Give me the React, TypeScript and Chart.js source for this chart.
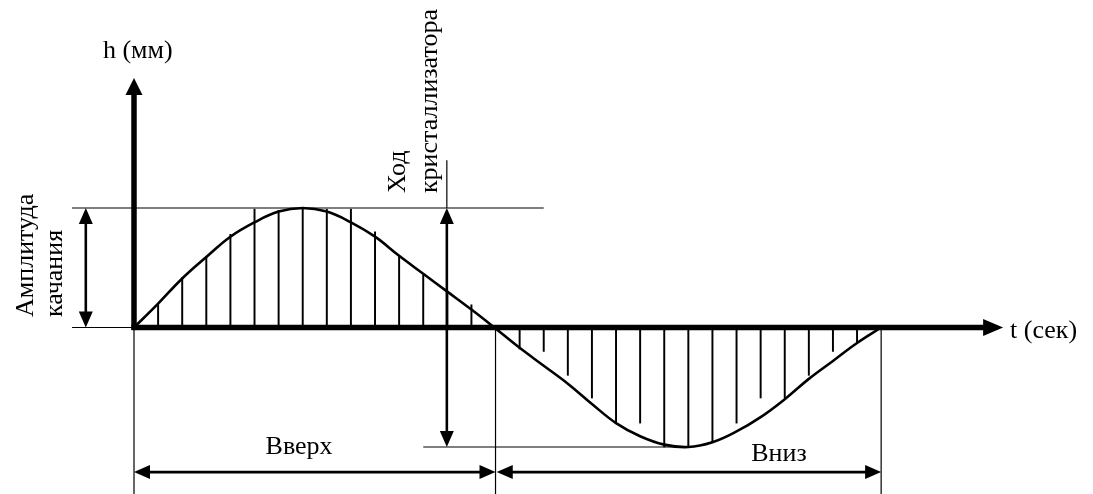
import React, { useEffect, useRef } from "react";
import { Chart, registerables } from "chart.js";

Chart.register(...registerables);

// time steps (one step = one hatch spacing) and normalised height h / amplitude
const curveT = [0, 1, 2, 3, 4, 5, 6, 7, 8, 9, 10, 11, 12, 13, 14, 14.95, 16, 17, 18, 19, 20, 21, 22, 23, 24, 25, 26, 27, 28, 29, 30, 31];
const curveH = [0, 0.2, 0.41, 0.59, 0.76, 0.88, 0.97, 1.0, 0.97, 0.88, 0.76, 0.6, 0.45, 0.3, 0.15, 0, -0.17, -0.32, -0.47, -0.64, -0.8, -0.91, -0.98, -1.0, -0.96, -0.87, -0.75, -0.6, -0.43, -0.28, -0.13, 0];

const hatchT = [1, 2, 3, 4, 5, 6, 7, 8, 9, 10, 11, 12, 13, 14, 16, 17, 18, 19, 20, 21, 22, 23, 24, 25, 26, 27, 28, 29, 30];
const hatchH = [0.2, 0.42, 0.59, 0.78, 0.99, 0.98, 1.0, 0.99, 0.99, 0.8, 0.6, 0.44, 0.3, 0.19, -0.18, -0.2, -0.4, -0.59, -0.8, -0.8, -1.0, -1.0, -0.96, -0.8, -0.59, -0.59, -0.4, -0.2, -0.13];

// key levels / instants
const amplitude = 1;
const tStart = 0;
const tHalf = 15;
const tEnd = 31;

// labels
const yAxisLabel = "h (мм)";
const xAxisLabel = "t (сек)";
const upLabel = "Вверх";
const downLabel = "Вниз";
const ampLabel = ["Амплитуда", "качания"];
const strokeLabel = ["Ход", "кристаллизатора"];

// view range of the axes
const X_MIN = -5.56;
const X_MAX = 39.79;
const Y_MIN = -1.3933;
const Y_MAX = 2.7406;

const FONT = '26px "Liberation Serif", "Times New Roman", serif';

function head(ctx: CanvasRenderingContext2D, x: number, y: number, dx: number, dy: number, len: number, hw: number) {
  const px = -dy, py = dx;
  ctx.beginPath();
  ctx.moveTo(x, y);
  ctx.lineTo(x - dx * len + px * hw, y - dy * len + py * hw);
  ctx.lineTo(x - dx * len - px * hw, y - dy * len - py * hw);
  ctx.closePath();
  ctx.fill();
}

const annotations = {
  id: "annotations",
  afterDatasetsDraw(chart: any) {
    const ctx: CanvasRenderingContext2D = chart.ctx;
    const xs = chart.scales.x, ys = chart.scales.y;
    const X = (v: number) => xs.getPixelForValue(v);
    const Y = (v: number) => ys.getPixelForValue(v);
    ctx.save();
    ctx.strokeStyle = "#000";
    ctx.fillStyle = "#000";
    ctx.lineCap = "butt";

    const line = (t1: number, h1: number, t2: number, h2: number, w: number) => {
      ctx.lineWidth = w;
      ctx.beginPath();
      ctx.moveTo(X(t1), Y(h1));
      ctx.lineTo(X(t2), Y(h2));
      ctx.stroke();
    };

    // thin construction lines
    line(-2.57, amplitude, 17.0, amplitude, 1.2);
    line(-2.57, 0, tStart, 0, 1.2);
    line(12.0, -amplitude, 23, -amplitude, 1.2);
    line(tStart, 0, tStart, Y_MIN, 1.2);
    line(tHalf, 0, tHalf, Y_MIN, 1.2);
    line(tEnd, 0, tEnd, Y_MIN, 1.2);
    line(12.98, amplitude, 12.98, 1.4, 1.2);

    // double arrows
    const dbl = (t1: number, h1: number, t2: number, h2: number) => {
      const x1 = X(t1), y1 = Y(h1), x2 = X(t2), y2 = Y(h2);
      const L = Math.hypot(x2 - x1, y2 - y1);
      const dx = (x2 - x1) / L, dy = (y2 - y1) / L;
      const len = 16, hw = 7;
      ctx.lineWidth = 2.6;
      ctx.beginPath();
      ctx.moveTo(x1 + dx * len * 0.8, y1 + dy * len * 0.8);
      ctx.lineTo(x2 - dx * len * 0.8, y2 - dy * len * 0.8);
      ctx.stroke();
      head(ctx, x2, y2, dx, dy, len, hw);
      head(ctx, x1, y1, -dx, -dy, len, hw);
    };
    dbl(-2, 0, -2, amplitude);
    dbl(12.98, amplitude, 12.98, -amplitude);
    dbl(tStart, -1.21, tHalf, -1.21);
    dbl(tHalf + 0.05, -1.21, tEnd, -1.21);

    // main axes
    ctx.lineWidth = 5.5;
    ctx.beginPath();
    ctx.moveTo(X(tStart), Y(-0.02));
    ctx.lineTo(X(tStart), Y(2.088) + 14);
    ctx.stroke();
    head(ctx, X(tStart), Y(2.088), 0, -1, 17, 8.5);
    ctx.beginPath();
    ctx.moveTo(X(tStart) - 2.5, Y(0));
    ctx.lineTo(X(36.06) - 16, Y(0));
    ctx.stroke();
    head(ctx, X(36.06), Y(0), 1, 0, 20, 8.5);

    // texts
    ctx.font = FONT;
    ctx.textBaseline = "alphabetic";
    ctx.textAlign = "left";
    ctx.fillText(yAxisLabel, X(-1.29), Y(2.255));
    ctx.fillText(xAxisLabel, X(36.35), Y(-0.09));
    ctx.textAlign = "center";
    ctx.fillText(upLabel, X(6.85), Y(-1.059));
    ctx.fillText(downLabel, X(26.76), Y(-1.121));

    const vtext = (s: string, t: number, h: number) => {
      ctx.save();
      ctx.translate(X(t), Y(h));
      ctx.rotate(-Math.PI / 2);
      ctx.textAlign = "left";
      ctx.textBaseline = "alphabetic";
      ctx.fillText(s, 0, 0);
      ctx.restore();
    };
    vtext(ampLabel[0], -4.19, 0.088);
    vtext(ampLabel[1], -2.99, 0.088);
    vtext(strokeLabel[0], 11.24, 1.125);
    vtext(strokeLabel[1], 12.57, 1.125);

    ctx.restore();
  },
};

export default function App() {
  const ref = useRef<HTMLCanvasElement | null>(null);
  useEffect(() => {
    if (!ref.current) return;
    const chart = new Chart(ref.current, {
      type: "line",
      data: {
        datasets: [
          {
            type: "line",
            data: curveT.map((t, i) => ({ x: t, y: curveH[i] })),
            borderColor: "#000",
            borderWidth: 2.6,
            pointRadius: 0,
            tension: 0.4,
            fill: false,
          } as any,
          {
            type: "bar",
            data: hatchT.map((t, i) => ({ x: t, y: hatchH[i] })),
            backgroundColor: "#000",
            borderWidth: 0,
            barThickness: 1.3,
          } as any,
        ],
      },
      options: {
        responsive: false,
        animation: false,
        devicePixelRatio: 1,
        events: [],
        layout: { padding: 0 },
        plugins: { legend: { display: false }, tooltip: { enabled: false } },
        scales: {
          x: { type: "linear", display: false, min: X_MIN, max: X_MAX, offset: false },
          y: { type: "linear", display: false, min: Y_MIN, max: Y_MAX },
        },
      } as any,
      plugins: [annotations],
    });
    return () => chart.destroy();
  }, []);
  return (
    <div style={{ position: "absolute", left: 0, top: 0, width: 1093, height: 494, background: "#fff" }}>
      <canvas ref={ref} width={1093} height={494} style={{ display: "block" }} />
    </div>
  );
}
